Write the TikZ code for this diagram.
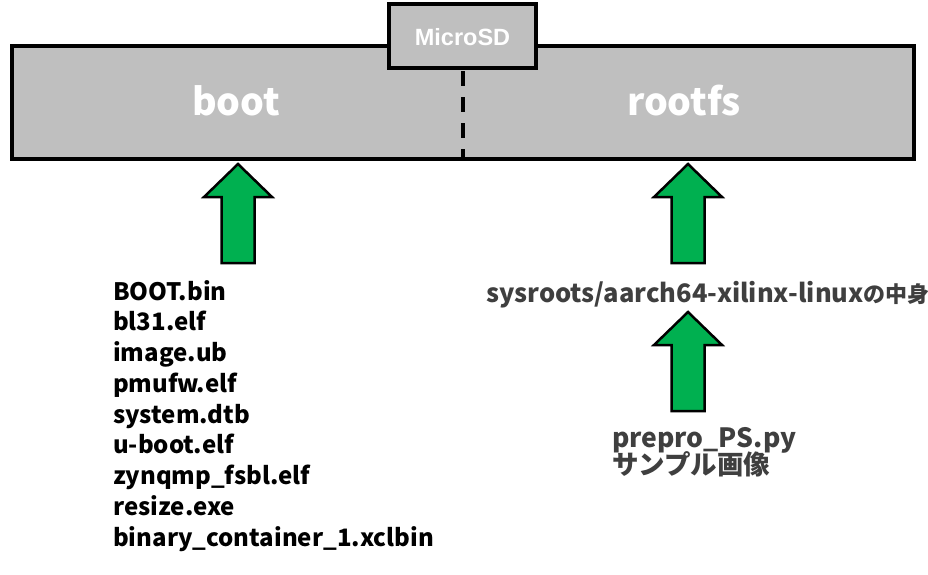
\documentclass[tikz,border=0pt]{standalone}
\usepackage{fontspec}
\setmainfont{Noto Sans CJK JP}
\newfontfamily\arialb{Liberation Sans}
\definecolor{sdgray}{HTML}{BFBFBF}
\definecolor{okgreen}{HTML}{00B050}
\definecolor{txtgray}{HTML}{3F3F3F}
\newcommand\fsz[1]{\fontsize{#1}{#1}\selectfont}
\begin{document}
\begin{tikzpicture}[x=1pt,y=-1pt,
  panel/.style={draw=black, line width=4pt, fill=sdgray},
  bigtxt/.style={text=white, font=\fsz{37.5}\bfseries, inner sep=0pt, anchor=base},
  filetxt/.style={text=black, font=\fsz{24}\bfseries, inner sep=0pt, anchor=base west},
  graytxt/.style={text=txtgray, font=\bfseries, inner sep=0pt},
  greenarrow/.style={draw=black, line width=2.5pt, fill=okgreen, line join=miter},
  uparrow/.pic={\draw[greenarrow] (0,0) -- (34,33) -- (16.5,33) -- (16.5,99) -- (-16.5,99) -- (-16.5,33) -- (-34,33) -- cycle;}
]
\useasboundingbox (0,0) rectangle (928,574);
% main card
\draw[panel] (12,46) rectangle (914,159);
\coordinate (dtop) at (463,68);
\coordinate (dbot) at (463,159);
\draw[line width=4pt, dash pattern=on 15pt off 11pt, dash phase=-3pt] (dtop) -- (dbot);
\node[draw=black, line width=4pt, fill=sdgray, minimum width=147pt, minimum height=64pt, inner sep=0pt] (sd) at (462.5,36) {};
\node[text=white, font=\arialb\fsz{23.5}\bfseries, inner sep=0pt] (sdlbl) at (462.5,37) {MicroSD};
\node[bigtxt] (boot) at (236,115) {boot};
\node[bigtxt] (rootfs) at (684,115) {rootfs};
% arrows
\pic at (238,164) {uparrow};
\pic at (688,164) {uparrow};
\pic at (688,312) {uparrow};
% file list
\foreach \t [count=\i] in {BOOT.bin, bl31.elf, image.ub, pmufw.elf, system.dtb, u-boot.elf, zynqmp\_fsbl.elf, resize.exe, binary\_container\_1.xclbin}
  \node[filetxt] (f\i) at (113,{300+30.75*(\i-1)}) {\t};
\node[graytxt, anchor=base west] (sys) at (486,302) {\fsz{25.5}sysroots/aarch64-xilinx-linux\fsz{22}の中身};
\node[graytxt, anchor=base west] (pp) at (612,447) {\fsz{26.5}prepro\_PS.py};
\node[graytxt, anchor=base west] (smp) at (612,474) {\fsz{26.5}サンプル画像};
\end{tikzpicture}
\end{document}
